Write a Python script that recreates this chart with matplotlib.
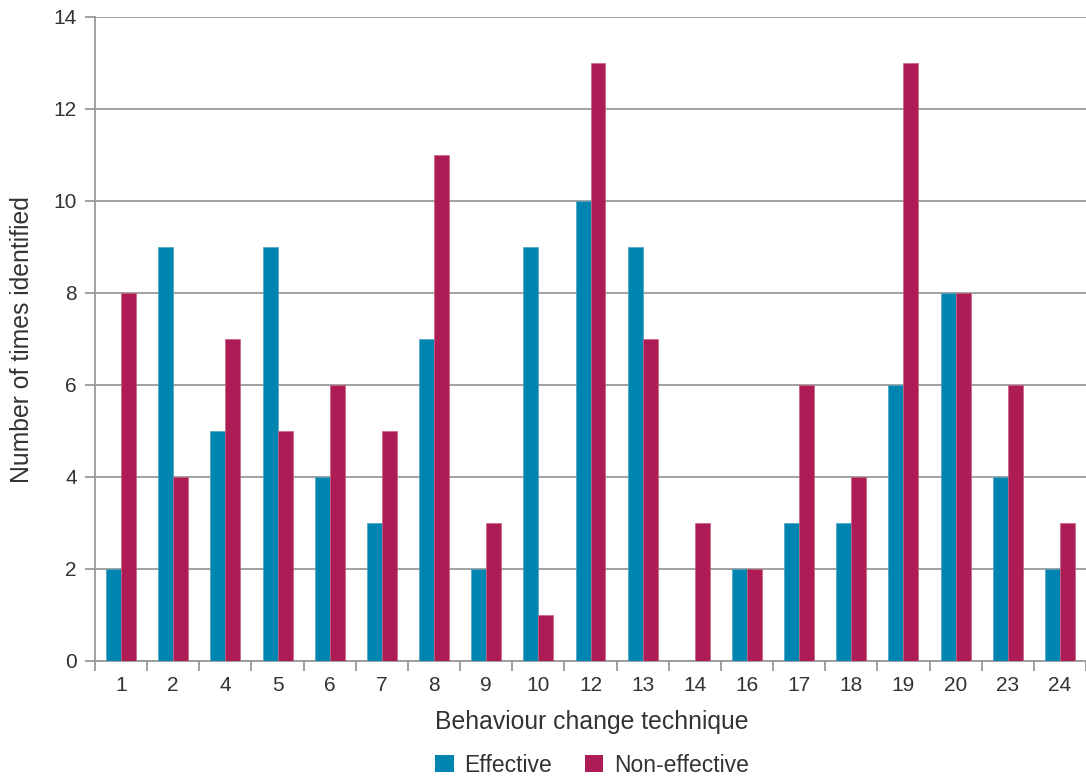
import matplotlib
matplotlib.use("Agg")
import matplotlib.pyplot as plt
import numpy as np
from matplotlib.patches import Patch

categories = ["1", "2", "4", "5", "6", "7", "8", "9", "10", "12", "13", "14", "16", "17", "18", "19", "20", "23", "24"]
effective = [2, 9, 5, 9, 4, 3, 7, 2, 9, 10, 9, 0, 2, 3, 3, 6, 8, 4, 2]
non_effective = [8, 4, 7, 5, 6, 5, 11, 3, 1, 13, 7, 3, 2, 6, 4, 13, 8, 6, 3]
y_ticks = [0, 2, 4, 6, 8, 10, 12, 14]

blue = "#0085b0"
red = "#ad1c55"
grey = "#9a9a9a"
text_c = "#333333"

plt.rcParams['font.family'] = ['Liberation Sans', 'DejaVu Sans']

W, H = 1086, 778
fig = plt.figure(figsize=(W/100, H/100), dpi=100)
ax = fig.add_axes([95/W, 1-661/H, 1-95/W, (661-17)/H])

x = np.arange(len(categories))
w = 0.287
ax.bar(x - w/2, effective, width=w, color=blue, edgecolor="#4aa3c4", linewidth=0.5, zorder=3)
ax.bar(x + w/2, non_effective, width=w, color=red, edgecolor="#c8607f", linewidth=0.5, zorder=3)

ax.set_xlim(-0.5, len(categories) - 0.5)
ax.set_ylim(0, 14)
ax.set_yticks(y_ticks)
ax.yaxis.grid(True, color=grey, linewidth=1.3, zorder=0)
ax.set_axisbelow(True)

ax.set_xticks(x)
ax.set_xticklabels(categories)
ax.set_xticks(np.arange(-0.5, len(categories) + 0.5, 1), minor=True)
ax.tick_params(axis='x', which='major', length=0, pad=11, labelsize=15, labelcolor=text_c)
ax.tick_params(axis='x', which='minor', length=7, width=1.3, color=grey)
ax.tick_params(axis='y', length=7, width=1.3, color=grey, labelsize=15, labelcolor=text_c, pad=6)

for s in ['top', 'right']:
    ax.spines[s].set_visible(False)
for s in ['left', 'bottom']:
    ax.spines[s].set_color(grey)
    ax.spines[s].set_linewidth(1.3)

fig.text(592/W, 1-722/H, "Behaviour change technique", fontsize=17.8, color=text_c,
         ha='center', va='center')
fig.text(22/W, 1-340/H, "Number of times identified", fontsize=17.8, color=text_c,
         ha='center', va='center', rotation=90)

handles = [Patch(facecolor=blue, label="Effective"), Patch(facecolor=red, label="Non-effective")]
fig.legend(handles=handles, loc='center', bbox_to_anchor=(592/W, 1-765/H), ncol=2,
           frameon=False, fontsize=16.5, handlelength=0.8, handleheight=0.8, columnspacing=1.45,
           handletextpad=0.45, labelcolor=text_c, borderpad=0.1)

fig.savefig("out.png", dpi=100)
